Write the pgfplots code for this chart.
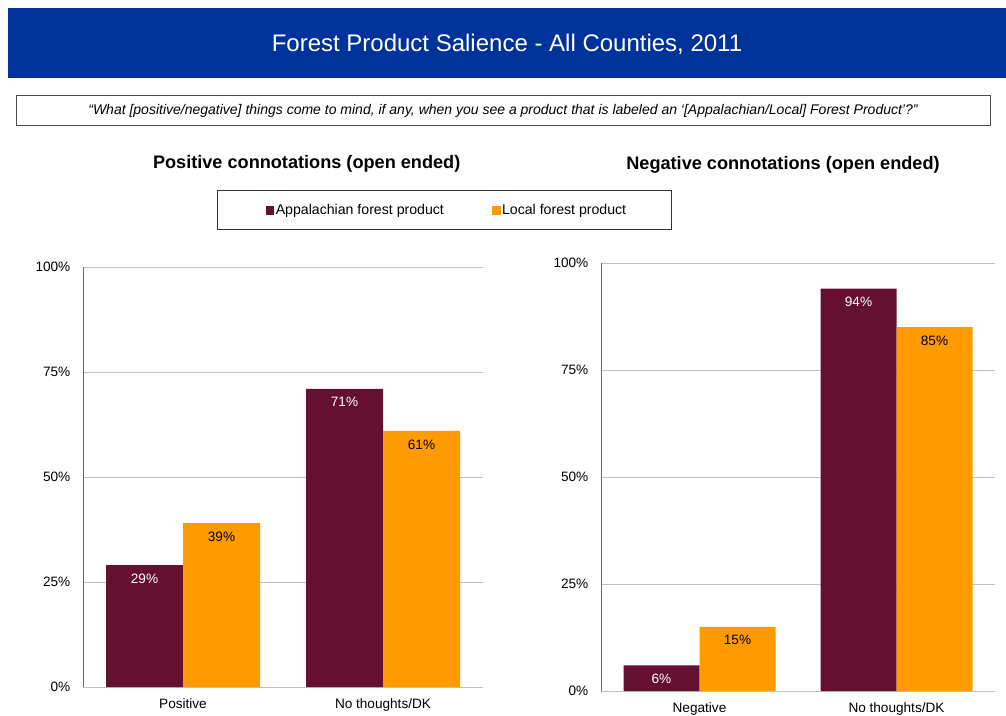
\documentclass[border=0pt]{standalone}
\usepackage{fontspec}
\setmainfont{Liberation Sans}
\usepackage{pgfplots}
\pgfplotsset{compat=1.18}
\usepackage{graphicx}

\definecolor{maroon}{HTML}{651030}
\definecolor{amber}{HTML}{FF9A00}
\definecolor{titleblue}{HTML}{003399}
\definecolor{gridgray}{HTML}{BFBFBF}
\definecolor{axisgray}{HTML}{6E6E6E}

\pgfplotsset{
  salience/.style={
    scale only axis,
    ybar=0pt,
    ymin=0, ymax=100,
    xmin=-0.5, xmax=1.5,
    xtick={0,1},
    ytick={0,25,50,75,100},
    axis lines=left,
    axis line style={-},
    x axis line style={gridgray},
    y axis line style={axisgray},
    ymajorgrids,
    grid style={gridgray, line width=0.6pt},
    major tick length=0pt,
    /pgf/number format/assume math mode=true,
    ticklabel style={font=\fontsize{10.2}{12}\selectfont},
    yticklabel={\pgfmathprintnumber{\tick}\%},
    yticklabel style={xshift=-6pt},
    xticklabel style={yshift=-5.5pt},
    nodes near coords={\pgfmathprintnumber{\pgfplotspointmeta}\%},
    every node near coord/.append style={anchor=north, yshift=-3pt,
      font=\fontsize{10.2}{12}\selectfont},
    clip=false,
  },
}

\begin{document}
\begin{tikzpicture}
  \path[use as bounding box] (0pt,0pt) rectangle (754.5pt,-536.25pt);

  % header
  \fill[titleblue] (6pt,-6pt) rectangle (754.5pt,-58.5pt);
  \node[white, font=\fontsize{18}{21}\selectfont] at (380.25pt,-33pt)
    {Forest Product Salience - All Counties, 2011};
  \draw[black!70, line width=0.6pt] (12pt,-71.25pt) rectangle (742.5pt,-93.75pt);
  \node[font=\fontsize{10.5}{12}\itshape] at (377.25pt,-83pt)
    {\textquotedblleft What [positive/negative] things come to mind, if any, when you see a product that is labeled an \textquoteleft[Appalachian/Local] Forest Product\textquoteright?\textquotedblright};

  \node[font=\fontsize{13.6}{16}\bfseries] at (230pt,-122.7pt) {Positive connotations (open ended)};
  \node[font=\fontsize{13.6}{16}\bfseries] at (587.25pt,-123.4pt) {Negative connotations (open ended)};

  \draw[black!80, line width=0.6pt] (162.75pt,-142.5pt) rectangle (503.25pt,-171.75pt);

  \begin{axis}[salience,
      at={(62.25pt,-515.25pt)}, anchor=south west,
      width=300pt, height=315pt,
      bar width=57.75pt,
      xticklabels={Positive, No thoughts/DK},
      legend columns=2,
      legend style={draw=none, fill=none, at={(0.909,1.134)}, anchor=center,
        font=\fontsize{10.6}{12}\selectfont,
        /tikz/every even column/.append style={column sep=35pt},
        nodes={inner xsep=1pt}},
      legend image code/.code={\fill[#1] (0pt,-3.3pt) rectangle (6.6pt,3.3pt);},
    ]
    \addplot[fill=maroon, draw=none, every node near coord/.append style={white}]
      coordinates {(0,29) (1,71)};
    \addplot[fill=amber, draw=none, every node near coord/.append style={black}]
      coordinates {(0,39) (1,61)};
    \legend{Appalachian forest product, Local forest product}
  \end{axis}

  \begin{axis}[salience,
      at={(450.75pt,-518.25pt)}, anchor=south west,
      width=295.5pt, height=321pt,
      bar width=57pt,
      xticklabels={Negative, No thoughts/DK},
    ]
    \addplot[fill=maroon, draw=none, every node near coord/.append style={white}]
      coordinates {(0,6) (1,94)};
    \addplot[fill=amber, draw=none, every node near coord/.append style={black}]
      coordinates {(0,15) (1,85)};
  \end{axis}
\end{tikzpicture}
\end{document}
